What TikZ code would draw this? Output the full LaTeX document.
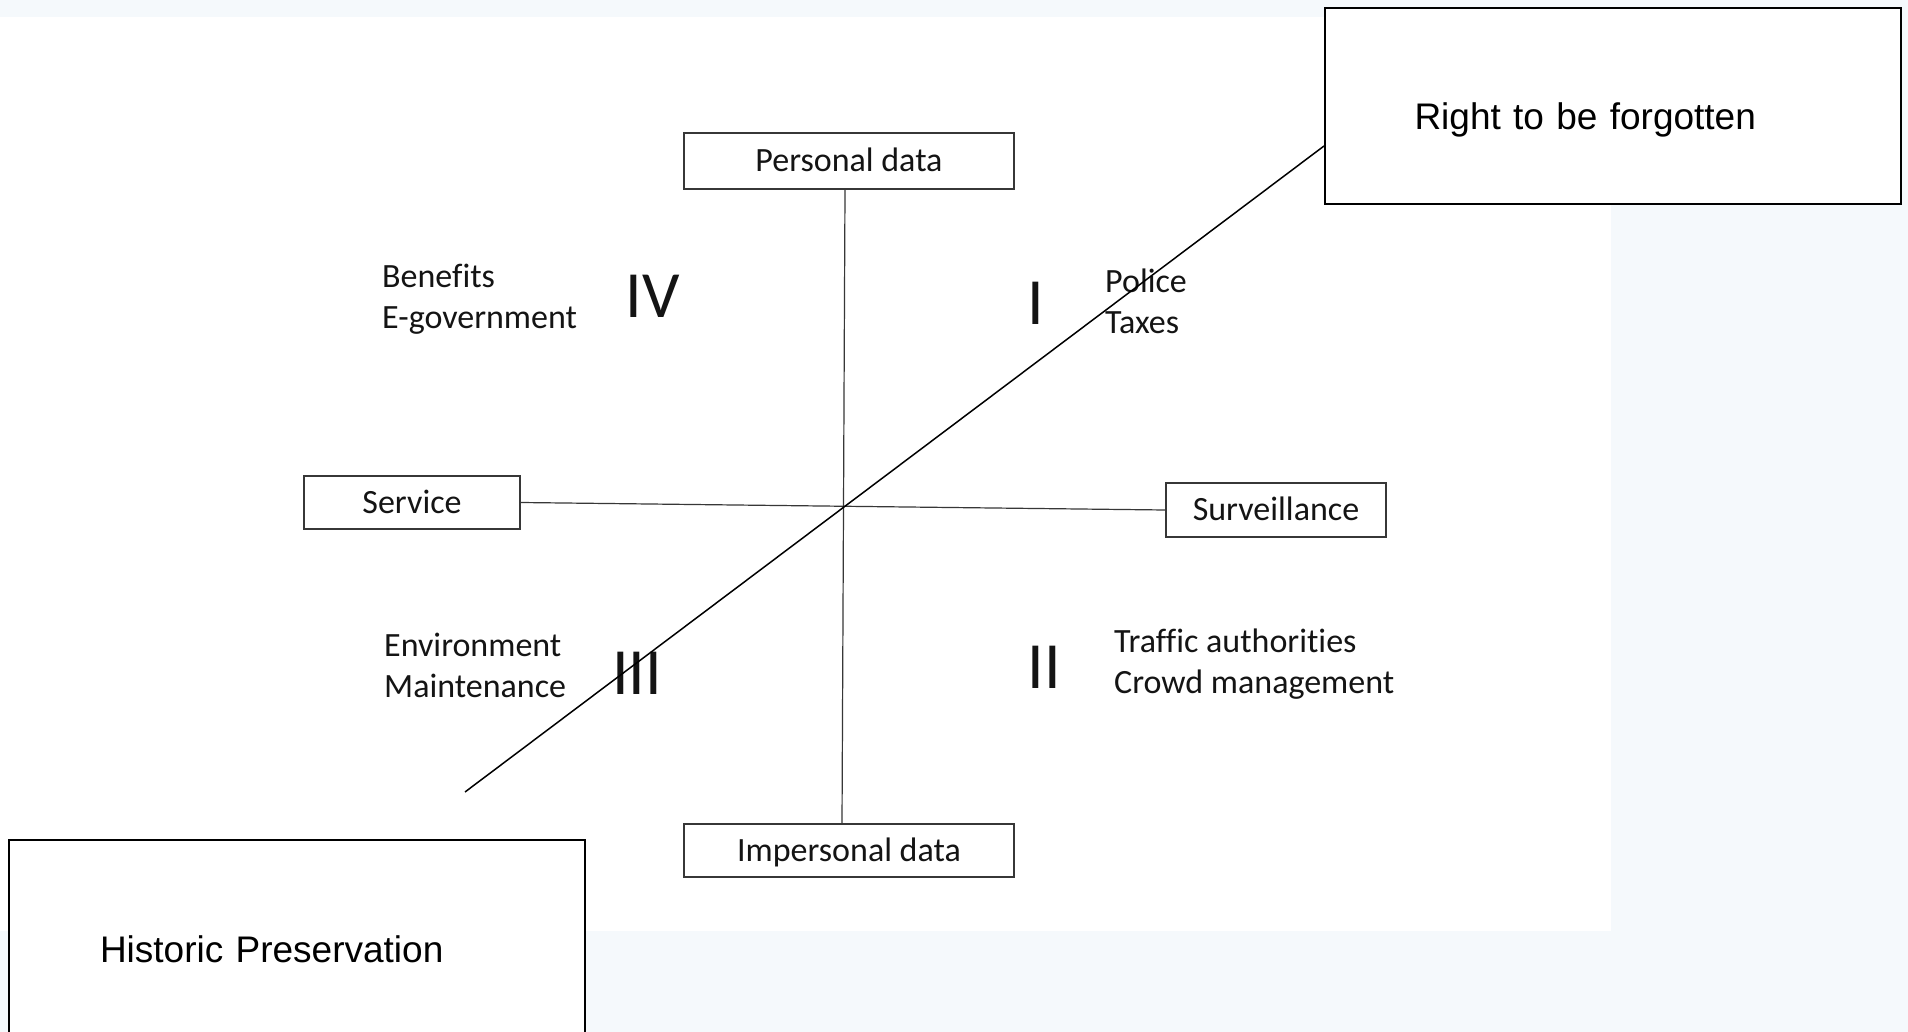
\documentclass[tikz,border=0pt]{standalone}
\usepackage{fontspec}
\newfontfamily\carlito[Ligatures=NoCommon]{Carlito}
\newfontfamily\arialf{Liberation Sans}
\usetikzlibrary{calc}
\definecolor{pagebg}{RGB}{245,249,252}
\definecolor{boxline}{RGB}{55,55,55}
\definecolor{inktext}{RGB}{20,20,20}
\begin{document}
\begin{tikzpicture}[x=1pt,y=-1pt,
  qbox/.style={draw=boxline, line width=1.4pt, inner sep=0pt, text=inktext,
    text height=28pt, text depth=6.5pt, font=\carlito\fontsize{34}{41.5}\selectfont},
  qlabel/.style={anchor=west, inner sep=0pt, align=left, text=inktext,
    font=\carlito\fontsize{34}{41}\selectfont},
  roman/.style={inner sep=0pt, text=inktext, font=\carlito\fontsize{66}{66}\selectfont},
  bigbox/.style={draw=black, line width=2pt, fill=white, minimum width=576pt,
    minimum height=196pt, inner sep=0pt, align=left, text height=48pt, text depth=0pt,
    font=\arialf\fontsize{37}{44}\selectfont},
  axisline/.style={draw=boxline, line width=1.2pt},
  diagline/.style={draw=black, line width=1.5pt}]
\useasboundingbox (0,0) rectangle (1908,1032);
\fill[pagebg] (0,0) rectangle (1908,1032);
\fill[white] (0,17) rectangle (1611,931);

% quadrant boxes
\node[qbox, minimum width=330pt, minimum height=56pt] (personal) at (849,161) {Personal data};
\node[qbox, minimum width=216pt, minimum height=53pt] (service) at (412,502.5) {Service};
\node[qbox, minimum width=220pt, minimum height=54pt] (surv) at (1276,510) {Surveillance};
\node[qbox, minimum width=330pt, minimum height=53pt] (imp) at (849,850.5) {Impersonal data};

% outer boxes
\node[bigbox, text width=397pt] (rbox) at (1613,106) {Right to be forgotten};
\node[bigbox, text width=394pt] (hbox) at (297,938) {Historic Preservation};

% axes
\draw[axisline] ([xshift=-4pt]personal.south) -- ([xshift=-7pt]imp.north);
\draw[axisline] (service.east) -- (surv.west);

% quadrant labels
\node[qlabel] (benefits) at (382,299) {Benefits\\E-government};
\node[qlabel] (police) at (1105,301.5) {Police\\Taxes};
\node[qlabel] (env) at (384,665.5) {Environment\\Maintenance};
\node[qlabel] (traffic) at (1114,664) {Traffic authorities\\Crowd management};

\node[roman] (q4) at (653,296) {IV};
\node[roman] (q1) at (1036,303) {I};
\node[roman] (q3) at (637,673) {III};
\node[roman] (q2) at (1044,667) {II};

% diagonal
\coordinate (dlow) at (465,792);
\draw[diagline] (dlow) -- ($(rbox.west)+(0,40)$);
\end{tikzpicture}
\end{document}
